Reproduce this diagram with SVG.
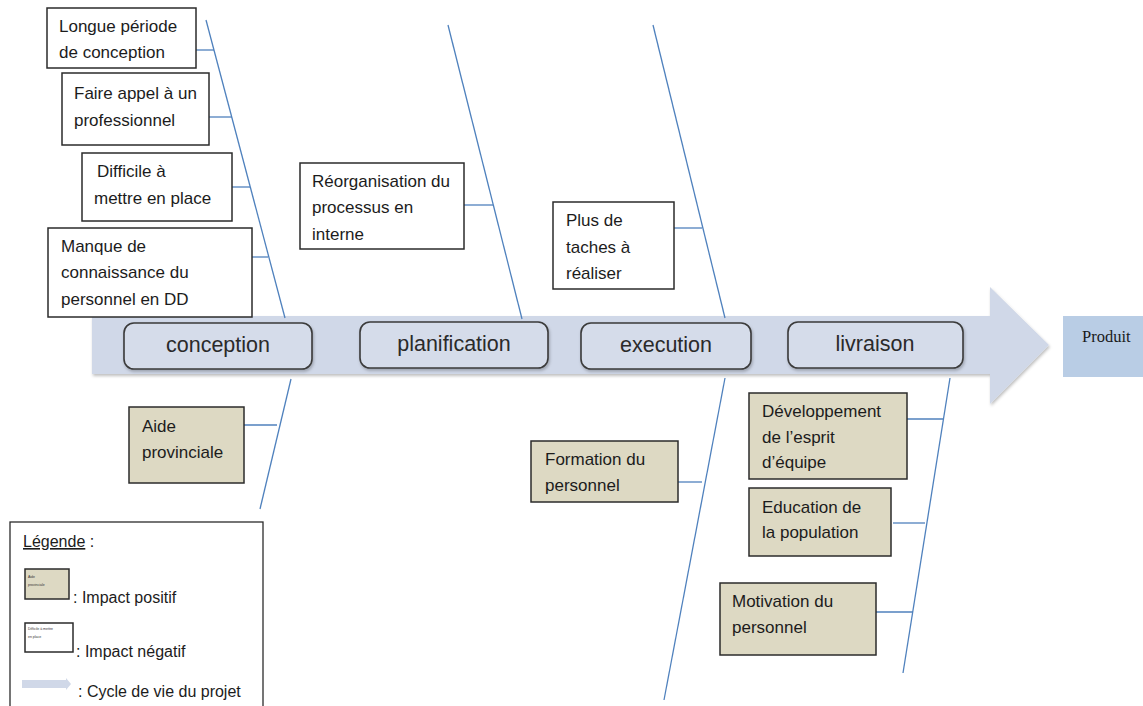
<svg xmlns="http://www.w3.org/2000/svg" width="1143" height="706" viewBox="0 0 1143 706">
  <style>
    .neg { fill: #ffffff; stroke: #2b2b2b; stroke-width: 1.5; }
    .pos { fill: #ddd9c3; stroke: #2b2b2b; stroke-width: 1.5; }
    .lbl { font-family: "Liberation Sans", Arial, sans-serif; font-size: 17px; fill: #1c1c1c; }
    .stage { fill: #d5dcea; stroke: #3a3a3a; stroke-width: 1.6; }
    .stxt { font-family: "Liberation Sans", Arial, sans-serif; font-size: 21.5px; fill: #2a2a2a; text-anchor: middle; }
    .bone { stroke: #4f81bd; stroke-width: 1.3; fill: none; }
    .leg { font-family: "Liberation Sans", Arial, sans-serif; font-size: 16px; fill: #1c1c1c; }
    .tiny { font-family: "Liberation Sans", Arial, sans-serif; font-size: 3.5px; fill: #333; }
  </style>
  <defs>
    <filter id="soft" x="-5%" y="-20%" width="110%" height="150%">
      <feDropShadow dx="1" dy="2" stdDeviation="1.5" flood-color="#000" flood-opacity="0.25"/>
    </filter>
    <clipPath id="clipDev">
      <rect x="749" y="393" width="158" height="78"/>
    </clipPath>
  </defs>

  <rect width="1143" height="706" fill="#ffffff"/>

  <!-- project life-cycle arrow -->
  <g id="cycle-arrow">
    <path d="M92 316 H990 V287 L1049 345 L990 404 V374 H92 Z" fill="#d0d8e8" filter="url(#soft)"/>
  </g>

  <!-- product -->
  <g id="produit">
    <rect x="1063" y="316" width="80" height="61" fill="#b9cde5"/>
    <text x="1082" y="342" font-family="Liberation Serif, Times New Roman, serif" font-size="16.5" fill="#1a1a1a">Produit</text>
  </g>

  <!-- connectors: bones and ribs -->
  <g id="connectors">
    <line class="bone" x1="206" y1="20" x2="285" y2="318"/>
    <line class="bone" x1="196" y1="50" x2="214" y2="50"/>
    <line class="bone" x1="209" y1="117" x2="232" y2="117"/>
    <line class="bone" x1="232" y1="187" x2="250" y2="187"/>
    <line class="bone" x1="252" y1="257" x2="268" y2="257"/>

    <line class="bone" x1="448" y1="25" x2="522" y2="319"/>
    <line class="bone" x1="464" y1="205" x2="493" y2="205"/>

    <line class="bone" x1="653" y1="25" x2="725" y2="318"/>
    <line class="bone" x1="674" y1="228" x2="702" y2="228"/>

    <line class="bone" x1="291" y1="379" x2="260" y2="509"/>
    <line class="bone" x1="244" y1="425" x2="277" y2="425"/>

    <line class="bone" x1="725" y1="378" x2="664" y2="700"/>
    <line class="bone" x1="678" y1="482" x2="702" y2="482"/>

    <line class="bone" x1="950" y1="378" x2="903" y2="673"/>
    <line class="bone" x1="907" y1="419" x2="943" y2="419"/>
    <line class="bone" x1="893" y1="523" x2="925" y2="523"/>
    <line class="bone" x1="876" y1="612" x2="913" y2="612"/>
  </g>

  <!-- life-cycle stages -->
  <g id="stage-conception">
    <rect class="stage" x="124" y="323" width="188" height="46" rx="10" filter="url(#soft)"/>
    <text class="stxt" x="218" y="352">conception</text>
  </g>
  <g id="stage-planification">
    <rect class="stage" x="360" y="322" width="188" height="46" rx="10" filter="url(#soft)"/>
    <text class="stxt" x="454" y="351">planification</text>
  </g>
  <g id="stage-execution">
    <rect class="stage" x="581" y="323" width="170" height="46" rx="10" filter="url(#soft)"/>
    <text class="stxt" x="666" y="352">execution</text>
  </g>
  <g id="stage-livraison">
    <rect class="stage" x="788" y="322" width="175" height="46" rx="10" filter="url(#soft)"/>
    <text class="stxt" x="875" y="351">livraison</text>
  </g>

  <!-- negative impacts -->
  <g id="longue-periode">
    <rect class="neg" x="47" y="8" width="149" height="60"/>
    <text class="lbl" x="59" y="32">Longue période</text>
    <text class="lbl" x="59" y="58">de conception</text>
  </g>
  <g id="faire-appel">
    <rect class="neg" x="62" y="73" width="147" height="72"/>
    <text class="lbl" x="74" y="99">Faire appel à un</text>
    <text class="lbl" x="74" y="126">professionnel</text>
  </g>
  <g id="difficile">
    <rect class="neg" x="82" y="153" width="150" height="68"/>
    <text class="lbl" x="97" y="177">Difficile à</text>
    <text class="lbl" x="94" y="204">mettre en place</text>
  </g>
  <g id="manque">
    <rect class="neg" x="48" y="228" width="204" height="89"/>
    <text class="lbl" x="61" y="252">Manque de</text>
    <text class="lbl" x="61" y="278">connaissance du</text>
    <text class="lbl" x="61" y="305">personnel en DD</text>
  </g>
  <g id="reorganisation">
    <rect class="neg" x="300" y="163" width="164" height="86"/>
    <text class="lbl" x="312" y="187">Réorganisation du</text>
    <text class="lbl" x="312" y="213">processus en</text>
    <text class="lbl" x="312" y="240">interne</text>
  </g>
  <g id="plus-de-taches">
    <rect class="neg" x="553" y="202" width="121" height="87"/>
    <text class="lbl" x="566" y="226">Plus de</text>
    <text class="lbl" x="566" y="253">taches à</text>
    <text class="lbl" x="566" y="279">réaliser</text>
  </g>

  <!-- positive impacts -->
  <g id="aide-provinciale">
    <rect class="pos" x="129" y="407" width="115" height="76"/>
    <text class="lbl" x="142" y="432">Aide</text>
    <text class="lbl" x="142" y="458">provinciale</text>
  </g>
  <g id="formation">
    <rect class="pos" x="531" y="441" width="147" height="61"/>
    <text class="lbl" x="545" y="465">Formation du</text>
    <text class="lbl" x="545" y="491">personnel</text>
  </g>
  <g id="esprit-equipe">
    <rect class="pos" x="749" y="393" width="158" height="86"/>
    <g clip-path="url(#clipDev)">
      <text class="lbl" x="762" y="417">Développement</text>
      <text class="lbl" x="762" y="443">de l’esprit</text>
      <text class="lbl" x="762" y="468">d’équipe</text>
    </g>
  </g>
  <g id="education">
    <rect class="pos" x="749" y="488" width="142" height="68"/>
    <text class="lbl" x="762" y="513">Education de</text>
    <text class="lbl" x="762" y="538">la population</text>
  </g>
  <g id="motivation">
    <rect class="pos" x="720" y="583" width="156" height="72"/>
    <text class="lbl" x="732" y="607">Motivation du</text>
    <text class="lbl" x="732" y="633">personnel</text>
  </g>

  <!-- legend -->
  <g id="legende">
    <rect x="10" y="522" width="253" height="190" fill="#ffffff" stroke="#2b2b2b" stroke-width="1.3"/>
    <text class="leg" x="23" y="547"><tspan text-decoration="underline">Légende</tspan> :</text>
    <rect class="pos" x="25" y="569" width="44" height="30" stroke-width="1.2"/>
    <text class="tiny" x="28" y="578">Aide</text>
    <text class="tiny" x="28" y="586">provinciale</text>
    <text class="leg" x="73" y="603">: Impact positif</text>
    <rect class="neg" x="25" y="623" width="48" height="29" stroke-width="1.2"/>
    <text class="tiny" x="28" y="630">Difficile à mettre</text>
    <text class="tiny" x="28" y="638">en place</text>
    <text class="leg" x="76" y="657">: Impact négatif</text>
    <path d="M22 680 H66 V678 L71 684 L66 690 V688 H22 Z" fill="#d0d8e8"/>
    <text class="leg" x="78" y="697">: Cycle de vie du projet</text>
  </g>
</svg>
